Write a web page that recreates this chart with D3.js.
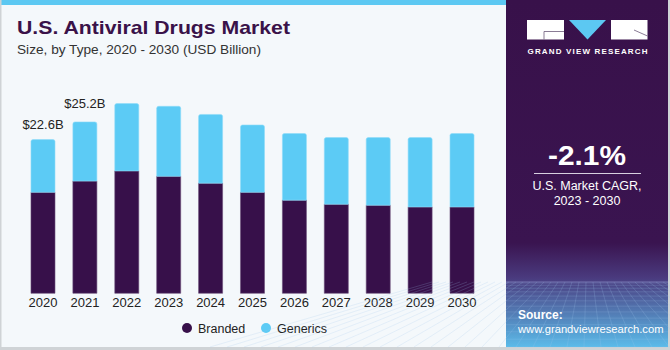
<!DOCTYPE html>
<html>
<head>
<meta charset="utf-8">
<script src="https://cdn.jsdelivr.net/npm/d3@7"></script>
<style>
  html, body { margin: 0; padding: 0; background: #fff; }
  svg { display: block; font-family: "Liberation Sans", Arial, sans-serif; }
</style>
</head>
<body>
<div id="chart"></div>
<script>
// values (USD billion)
const years = ['2020', '2021', '2022', '2023', '2024', '2025', '2026', '2027', '2028', '2029', '2030']
const branded = [14.85, 16.5, 18.0, 17.2, 16.2, 14.85, 13.7, 13.1, 12.95, 12.7, 12.7]
const generics = [7.75, 8.7, 9.9, 10.3, 10.1, 9.9, 9.8, 9.8, 9.95, 10.2, 10.8]
const totalLabels = {'2020': '$22.6B', '2021': '$25.2B'}
const seriesNames = ['Branded', 'Generics']

const W = 670, H = 350
const svg = d3.select('#chart').append('svg')
    .attr('width', W)
    .attr('height', H)

// background and frame
svg.append('rect').attr('width', W).attr('height', H).attr('fill', '#f4f8fb')
svg.append('rect').attr('x', 0).attr('y', 0).attr('width', 506).attr('height', 5).attr('fill', '#5cc8f2')
svg.append('rect').attr('x', 0).attr('y', 0).attr('width', 1.5).attr('height', H).attr('fill', '#cfd3d6')
svg.append('rect').attr('x', 0).attr('y', 347).attr('width', W).attr('height', 3).attr('fill', '#cfd3d6')

// title
svg.append('text')
    .attr('x', 17).attr('y', 34)
    .attr('font-size', 19).attr('font-weight', 'bold')
    .attr('fill', '#3a1249')
    .attr('textLength', 273).attr('lengthAdjust', 'spacingAndGlyphs')
    .text('U.S. Antiviral Drugs Market')
svg.append('text')
    .attr('x', 17).attr('y', 54)
    .attr('font-size', 13.5)
    .attr('fill', '#333')
    .attr('textLength', 244).attr('lengthAdjust', 'spacingAndGlyphs')
    .text('Size, by Type, 2020 - 2030 (USD Billion)')

// scales
const x = d3.scaleBand().domain(years).range([22.6, 482.4]).paddingInner(0.427).paddingOuter(0.2)
const y = d3.scaleLinear().domain([0, 30]).range([293.3, 89.3])
const color = d3.scaleOrdinal().domain(seriesNames).range(['#37104a', '#5ccbf5'])

const rows = years.map((yr, i) => ({year: yr, Branded: branded[i], Generics: generics[i]}))
const stacked = d3.stack().keys(seriesNames)(rows)

const g = svg.append('g')
stacked.forEach(layer => {
    g.selectAll(null)
        .data(layer)
        .enter()
        .append('path')
        .attr('fill', color(layer.key))
        .attr('stroke', layer.key == 'Branded' ? '#6a4d78' : '#8fdcf8')
        .attr('stroke-width', 0.6)
        .attr('d', d => {
            const x0 = x(d.data.year), x1 = x0 + x.bandwidth()
            const yt = y(d[1]), yb = y(d[0])
            const r = layer.key == 'Generics' ? 2 : 0
            return `M${x0},${yb}V${yt + r}Q${x0},${yt} ${x0 + r},${yt}H${x1 - r}Q${x1},${yt} ${x1},${yt + r}V${yb}Z`
        })
})

// total labels
g.selectAll('.total')
    .data(rows.filter(d => totalLabels[d.year]))
    .enter()
    .append('text')
    .attr('x', d => x(d.year) + x.bandwidth() / 2)
    .attr('y', (d, i) => y(d.Branded + d.Generics) - (i == 0 ? 11 : 14))
    .attr('text-anchor', 'middle')
    .attr('font-size', 13)
    .attr('fill', '#222')
    .text(d => totalLabels[d.year])

// x axis
const xAxis = svg.append('g')
    .attr('transform', 'translate(0,293.3)')
    .call(d3.axisBottom(x).tickSize(0).tickPadding(4))
xAxis.select('.domain').remove()
xAxis.selectAll('text')
    .attr('font-size', 13)
    .attr('fill', '#222')
    .attr('font-family', '"Liberation Sans", Arial, sans-serif')

// legend
const legend = svg.append('g').attr('transform', 'translate(187,328)')
seriesNames.forEach((name, i) => {
    const item = legend.append('g').attr('transform', `translate(${i * 79},0)`)
    item.append('circle').attr('r', 5).attr('fill', color(name))
    item.append('text')
        .attr('x', 11).attr('y', 4.5)
        .attr('font-size', 12.5)
        .attr('fill', '#222')
        .text(name)
})

// right panel
const px = 506, pw = 162
const defs = svg.append('defs')
const grad = defs.append('linearGradient').attr('id', 'panelGrad').attr('x1', 0).attr('x2', 0).attr('y1', 0).attr('y2', 1)
grad.append('stop').attr('offset', '0%').attr('stop-color', '#38114a')
grad.append('stop').attr('offset', '70%').attr('stop-color', '#3a1450')
grad.append('stop').attr('offset', '80%').attr('stop-color', '#4a3a7e')
grad.append('stop').attr('offset', '100%').attr('stop-color', '#5bbbe9')
svg.append('rect').attr('x', px).attr('y', 0).attr('width', pw).attr('height', 347).attr('fill', 'url(#panelGrad)')
svg.append('rect').attr('x', px + pw).attr('y', 0).attr('width', 2).attr('height', H).attr('fill', '#cfd3d6')

// mesh decoration in the panel bottom
const mesh = svg.append('g').attr('stroke', '#9fc6ee').attr('stroke-opacity', 0.35).attr('stroke-width', 0.6).attr('fill', 'none')
const hy = 282
for (let k = 0; k < 14; k++) {
    const yy = hy + Math.pow(k / 13, 1.6) * 65
    mesh.append('line').attr('x1', px).attr('x2', px + pw).attr('y1', yy).attr('y2', yy)
}
for (let k = -12; k <= 24; k++) {
    const xTop = px + 10 + k * 7
    const xBot = px + 10 + (k - 6) * 17
    mesh.append('line').attr('x1', xTop).attr('y1', hy).attr('x2', xBot).attr('y2', 347)
}
svg.append('line').attr('x1', px).attr('x2', px + pw).attr('y1', hy).attr('y2', hy)
    .attr('stroke', '#8a86c0').attr('stroke-opacity', 0.5)

// logo
const logo = svg.append('g')
logo.append('rect').attr('x', 527).attr('y', 20).attr('width', 37).attr('height', 19.5).attr('fill', '#fff')
logo.append('path').attr('d', 'M544,31.5H564M544,31.5V39.5').attr('stroke', '#6c5a7a').attr('stroke-width', 0.8).attr('fill', 'none')
logo.append('path').attr('d', 'M569,20H606L587.5,39.5Z').attr('fill', '#5cc8f2')
logo.append('rect').attr('x', 611).attr('y', 20).attr('width', 36.5).attr('height', 19.5).attr('fill', '#fff')
logo.append('path').attr('d', 'M634,30L647.5,36').attr('stroke', '#6c5a7a').attr('stroke-width', 0.8)
logo.append('text')
    .attr('x', 527.5).attr('y', 53.5)
    .attr('font-size', 8).attr('font-weight', 'bold')
    .attr('fill', '#fff')
    .attr('textLength', 120).attr('lengthAdjust', 'spacing')
    .text('GRAND VIEW RESEARCH')

// CAGR block
svg.append('text')
    .attr('x', 587).attr('y', 165)
    .attr('text-anchor', 'middle')
    .attr('font-size', 27).attr('font-weight', 'bold')
    .attr('fill', '#fff')
    .attr('textLength', 78).attr('lengthAdjust', 'spacingAndGlyphs')
    .text('-2.1%')
svg.append('line').attr('x1', 534).attr('x2', 641).attr('y1', 173.5).attr('y2', 173.5)
    .attr('stroke', '#d8d0e0').attr('stroke-width', 1)
svg.append('text')
    .attr('x', 587).attr('y', 190)
    .attr('text-anchor', 'middle')
    .attr('font-size', 12.5).attr('fill', '#fff')
    .text('U.S. Market CAGR,')
svg.append('text')
    .attr('x', 587).attr('y', 204.5)
    .attr('text-anchor', 'middle')
    .attr('font-size', 12.5).attr('fill', '#fff')
    .text('2023 - 2030')

// source
svg.append('text')
    .attr('x', 518).attr('y', 319)
    .attr('font-size', 12).attr('font-weight', 'bold').attr('fill', '#fff')
    .text('Source:')
svg.append('text')
    .attr('x', 518).attr('y', 333)
    .attr('font-size', 11.2).attr('fill', '#fff')
    .text('www.grandviewresearch.com')
</script>
</body>
</html>
